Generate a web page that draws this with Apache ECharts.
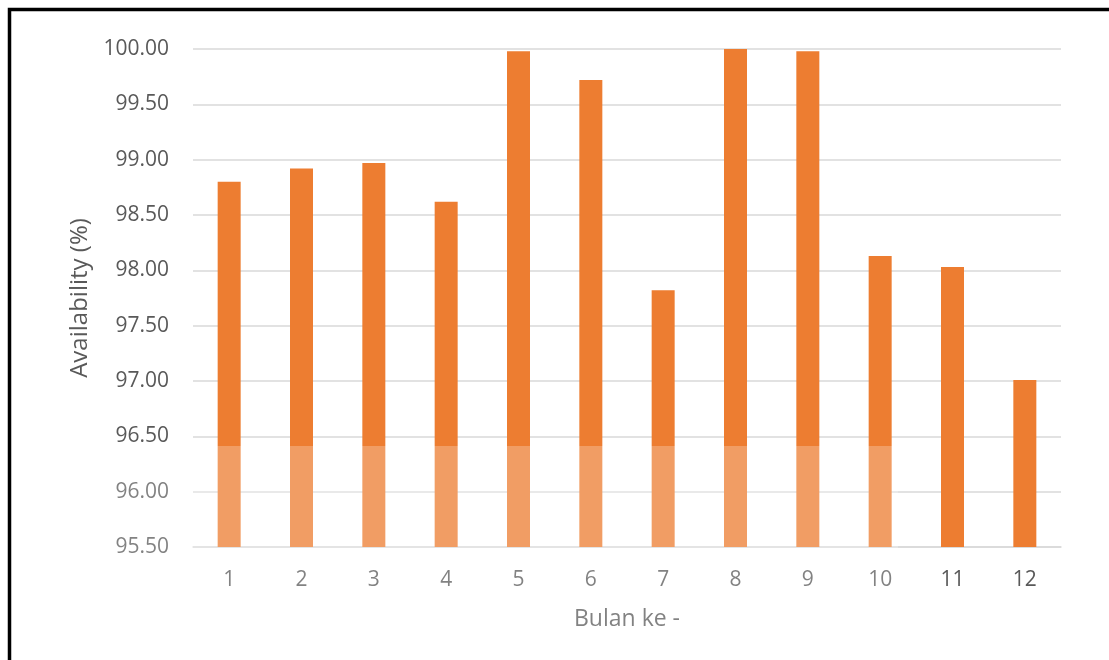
<!DOCTYPE html>
<html>
<head>
<meta charset="utf-8">
<script src="https://cdn.jsdelivr.net/npm/echarts@6/dist/echarts.min.js"></script>
<style>
  html, body { margin: 0; padding: 0; background: #fff; }
  #chart { width: 1109px; height: 660px; }
</style>
</head>
<body>
<div id="chart"></div>
<script>
// Monthly availability, months 1..12
const months = ['1', '2', '3', '4', '5', '6', '7', '8', '9', '10', '11', '12'];
const availability = [98.80, 98.92, 98.97, 98.62, 99.98, 99.72, 97.82, 100.00, 99.98, 98.13, 98.03, 97.01];
const yTicks = { min: 95.5, max: 100, step: 0.5 };

const textColor = '#595959';
const fontFamily = '"Open Sans", "Noto Sans", sans-serif';

const chart = echarts.init(document.getElementById('chart'), null, { renderer: 'canvas' });

chart.setOption({
  animation: false,
  backgroundColor: '#ffffff',
  grid: { left: 193, right: 48, top: 49, bottom: 113, containLabel: false },
  xAxis: {
    type: 'category',
    data: months,
    name: 'Bulan ke -',
    nameLocation: 'middle',
    nameGap: 61,
    nameTextStyle: { color: textColor, fontSize: 23, fontFamily },
    axisLine: { show: true, lineStyle: { color: '#d9d9d9', width: 1.5 } },
    axisTick: { show: false },
    axisLabel: { color: textColor, fontSize: 21, fontFamily, margin: 23 }
  },
  yAxis: {
    type: 'value',
    min: yTicks.min,
    max: yTicks.max,
    interval: yTicks.step,
    name: 'Availability (%)',
    nameLocation: 'middle',
    nameGap: 100,
    nameRotate: 90,
    nameTextStyle: { color: textColor, fontSize: 24, fontFamily },
    axisLine: { show: false },
    axisTick: { show: false },
    splitLine: { lineStyle: { color: '#d9d9d9', width: 1.5 } },
    axisLabel: {
      color: textColor, fontSize: 21, fontFamily, margin: 24,
      formatter: v => v.toFixed(2)
    }
  },
  series: [{
    type: 'bar',
    data: availability,
    barWidth: 23,
    itemStyle: { color: '#ed7d31' }
  }],
  graphic: [
    // faint white haze over the lower part of the figure
    {
      type: 'rect',
      z: 100,
      silent: true,
      shape: { x: 104, y: 446, width: 794, height: 214 },
      style: { fill: 'rgba(255,255,255,0.25)' }
    },
    // frame on the left and top edges
    {
      type: 'polyline',
      z: 101,
      silent: true,
      shape: { points: [[9.5, 662], [9.5, 9.5], [1111, 9.5]] },
      style: { stroke: '#000', lineWidth: 3.5, fill: null }
    }
  ]
});
</script>
</body>
</html>
